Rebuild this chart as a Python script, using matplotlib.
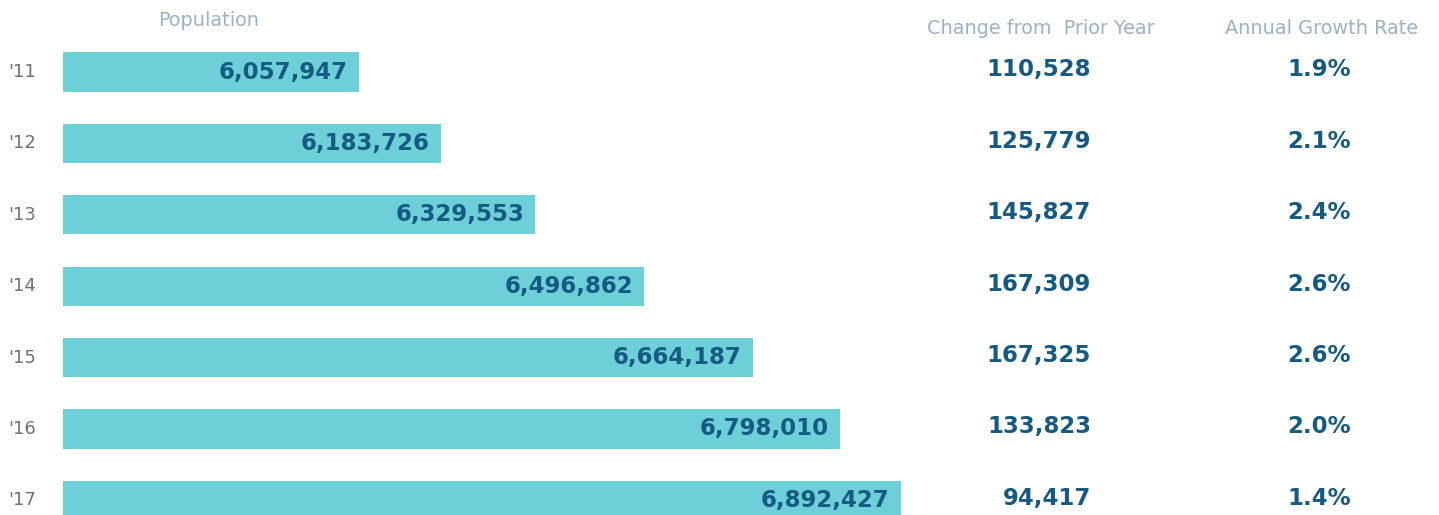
import matplotlib.pyplot as plt
import matplotlib.transforms as mtransforms

years = ["'11", "'12", "'13", "'14", "'15", "'16", "'17"]
population = [6057947, 6183726, 6329553, 6496862, 6664187, 6798010, 6892427]
change = [110528, 125779, 145827, 167309, 167325, 133823, 94417]
growth = [1.9, 2.1, 2.4, 2.6, 2.6, 2.0, 1.4]

BAR = "#6dcfd8"
DARK = "#145a82"
HEAD = "#9bb2c6"
YEAR = "#707070"
FONT = ["DejaVu Sans"]

W, H = 1439, 515
fig = plt.figure(figsize=(W / 100, H / 100), dpi=100)
ax = fig.add_axes([0, 0, 1, 1])
ax.set_axis_off()

# population axis: bars start at 5.6M, one pixel ~ 1540 people
base = 5602000
per_px = 1540.0
ax.set_xlim(base - 63 * per_px, base + (W - 63) * per_px)
row_px = 71.4
ax.set_ylim((H - 72) / row_px, -72 / row_px)

rows = range(len(years))
ax.barh(rows, [p - base for p in population], left=base, height=0.55,
        color=BAR, edgecolor="none")

fx = mtransforms.blended_transform_factory(fig.transFigure, ax.transData)
offset = mtransforms.offset_copy(ax.transData, fig=fig, x=-8, y=0, units="points")

for i in rows:
    ax.text(8 / W, i, years[i], transform=fx, ha="left", va="center",
            fontsize=13, color=YEAR, family=FONT)
    ax.text(population[i], i, f"{population[i]:,}", transform=offset,
            ha="right", va="center", fontsize=16.5, color=DARK,
            family=FONT, fontweight="bold")
    ax.text(1091 / W, i - 0.03, f"{change[i]:,}", transform=fx, ha="right",
            va="center", fontsize=16.5, color=DARK, family=FONT, fontweight="bold")
    ax.text(1351 / W, i - 0.03, f"{growth[i]:.1f}%", transform=fx, ha="right",
            va="center", fontsize=16.5, color=DARK, family=FONT, fontweight="bold")

fig.text(209 / W, 1 - 21 / H, "Population", ha="center", va="center",
         fontsize=13.9, color=HEAD, family=FONT)
fig.text(1041 / W, 1 - 29 / H, "Change from  Prior Year", ha="center",
         va="center", fontsize=13.9, color=HEAD, family=FONT)
fig.text(1322 / W, 1 - 28 / H, "Annual Growth Rate", ha="center",
         va="center", fontsize=13.9, color=HEAD, family=FONT)

fig.savefig("out.png", dpi=100, facecolor="white")
